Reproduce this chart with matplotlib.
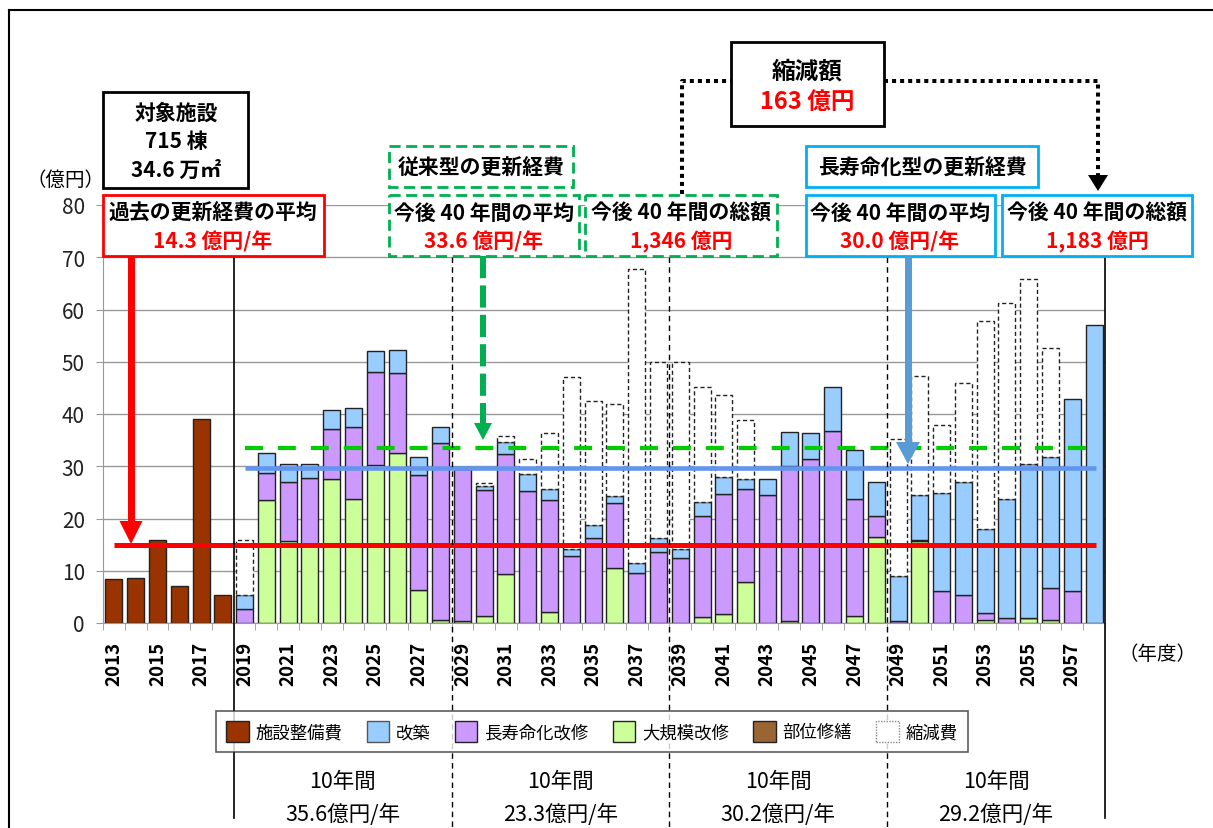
import matplotlib
matplotlib.use("Agg")
import matplotlib.pyplot as plt
import matplotlib.transforms as mtransforms
from matplotlib.patches import Rectangle, Polygon, Patch
from matplotlib.lines import Line2D
import numpy as np

plt.rcParams['font.family'] = ['Noto Sans CJK JP', 'DejaVu Sans']

W, H = 1213, 829

# ---------------------------------------------------------------- data
past_years = list(range(2013, 2019))
past_cost = [8.4, 8.7, 15.8, 7.0, 39.1, 5.3]          # 施設整備費

years = list(range(2019, 2059))
# 大規模改修
major_repair = [0, 23.5, 15.7, 15.2, 27.6, 23.7, 30.2, 32.5, 6.4, 0.5,
                0.3, 1.3, 9.3, 0, 2.1, 0, 0, 10.6, 0, 0,
                0, 1.1, 1.8, 7.9, 0, 0.3, 0, 0, 1.3, 16.5,
                0, 15.6, 0, 0, 0.6, 0, 1.0, 0.5, 0, 0]
# 長寿命化改修
life_ext = [2.6, 5.2, 11.3, 12.6, 9.6, 13.8, 17.9, 15.3, 21.9, 34.0,
            29.2, 24.1, 23.0, 25.3, 21.5, 12.8, 16.3, 12.3, 9.6, 13.6,
            12.5, 19.4, 22.8, 17.8, 24.5, 29.8, 31.4, 36.7, 22.5, 4.0,
            0.3, 0.2, 6.1, 5.3, 1.4, 1.0, 0, 6.2, 6.1, 0]
# 改築
rebuild = [2.7, 3.9, 3.5, 2.7, 3.5, 3.6, 3.9, 4.5, 3.4, 3.0,
           0, 0.9, 2.4, 3.2, 2.1, 1.4, 2.5, 1.4, 1.8, 2.6,
           1.7, 2.6, 3.4, 1.8, 3.0, 6.5, 4.9, 8.4, 9.4, 6.5,
           8.6, 8.7, 18.8, 21.7, 15.9, 22.8, 29.5, 25.1, 36.7, 57.0]
# 縮減費
reduction = [10.5, 0, 0, 0, 0, 0, 0, 0, 0, 0,
             0, 0.4, 1.1, 2.8, 10.7, 32.8, 23.7, 17.6, 56.3, 33.8,
             35.8, 22.1, 15.6, 11.3, 0, 0, 0, 0, 0, 0,
             26.4, 22.8, 13.0, 18.9, 39.9, 37.4, 35.3, 20.9, 0, 0]

past_avg_line = 15.0
conv_avg_line = 33.5
long_avg_line = 29.7

period_edges = [2018.5, 2028.5, 2038.5, 2048.5, 2058.5]
period_avg = ["35.6億円/年", "23.3億円/年", "30.2億円/年", "29.2億円/年"]

C_PAST = '#993300'
C_REBUILD = '#99ccff'
C_LIFE = '#cc99ff'
C_MAJOR = '#ccff99'
C_PART = '#996633'

# ---------------------------------------------------------------- figure
fig = plt.figure(figsize=(W / 100, H / 100), dpi=100)
ax = fig.add_axes([103 / W, 1 - 624 / H, (1105 - 103) / W, (624 - 206) / H])
# pixel coordinates measured from the top-left corner of the picture
px = mtransforms.Affine2D().scale(1 / W, -1 / H).translate(0, 1) + fig.transFigure

bw = 0.78
ax.bar(past_years, past_cost, bw, color=C_PAST, edgecolor='#222222', lw=1, zorder=2)

g = np.array(major_repair)
p = np.array(life_ext)
b = np.array(rebuild)
r = np.array(reduction)
yrs = np.array(years)
ax.bar(yrs, g, bw, color=C_MAJOR, edgecolor='#222222', lw=1, zorder=2)
ax.bar(yrs, p, bw, bottom=g, color=C_LIFE, edgecolor='#222222', lw=1, zorder=2)
ax.bar(yrs, b, bw, bottom=g + p, color=C_REBUILD, edgecolor='#222222', lw=1, zorder=2)
m = r > 0
ax.bar(yrs[m], r[m], bw, bottom=(g + p + b)[m], color='white', edgecolor='#222222',
       lw=1, linestyle=(0, (3, 2)), zorder=2)

# average lines
ax.plot([2013, 2058.1], [past_avg_line] * 2, color='#ff0000', lw=3.6,
        solid_capstyle='butt', zorder=4)
ax.plot([2019, 2058.1], [long_avg_line] * 2, color='#6495ED', lw=3.3,
        solid_capstyle='butt', zorder=4)
ax.plot([2019, 2058.1], [conv_avg_line] * 2, color='#00cc00', lw=3,
        linestyle=(0, (4.3, 3.6)), zorder=4)

# period dividers
for i, xe in enumerate(period_edges):
    if i == 0 or i == len(period_edges) - 1:
        ax.plot([xe, xe], [70, -37.3], color='black', lw=1.2, clip_on=False, zorder=5)
    else:
        ax.plot([xe, xe], [70, -40], color='black', lw=1, linestyle=(0, (4, 3)),
                clip_on=False, zorder=5)

for i in range(4):
    xc = (period_edges[i] + period_edges[i + 1]) / 2
    ax.text(xc, -30.2, "10年間", ha='center', va='center', fontsize=15.5, clip_on=False)
    ax.text(xc, -36.6, period_avg[i], ha='center', va='center', fontsize=15.5, clip_on=False)

# axes styling
ax.set_xlim(2012.5, 2058.5)
ax.set_ylim(0, 80)
for s in ['top', 'right']:
    ax.spines[s].set_visible(False)
for s in ['left', 'bottom']:
    ax.spines[s].set_color('#999999')
ax.set_yticks(range(0, 81, 10))
ax.tick_params(axis='y', length=5, color='#999999', labelsize=15, labelcolor='#222222', pad=8)
ax.set_xticks(range(2013, 2058, 2))
ax.set_xticklabels([str(v) for v in range(2013, 2058, 2)], rotation=90,
                   fontsize=13.5, fontweight='bold')
ax.set_xticks(np.arange(2012.5, 2058.6, 1), minor=True)
ax.tick_params(axis='x', which='major', length=0, pad=13)
ax.tick_params(axis='x', which='minor', length=5, color='#999999')
ax.yaxis.grid(True, color='#999999', lw=1)
ax.set_axisbelow(True)


# ---------------------------------------------------------------- annotations
def ptext(x, y, s, **kw):
    fig.text(x / W, 1 - y / H, s, ha='center', va='center', zorder=7, **kw)


def pbox(x0, y0, x1, y1, ec, ls='-', lw=1.6):
    fig.add_artist(Rectangle((x0, y0), x1 - x0, y1 - y0, transform=px, fc='white',
                             ec=ec, ls=ls, lw=lw, zorder=6))


def parrow(x, y0, y1, color, shaft, hw, hl, ls='-'):
    fig.add_artist(Line2D([x, x], [y0, y1 - hl + 1], transform=px, color=color,
                          lw=shaft * 0.72, linestyle=ls, solid_capstyle='butt',
                          dash_capstyle='butt', zorder=6))
    fig.add_artist(Polygon([(x - hw / 2, y1 - hl), (x + hw / 2, y1 - hl), (x, y1)],
                           closed=True, transform=px, color=color, lw=0, zorder=6))


GREEN = '#00b050'
CYAN = '#00b0f0'
dash_box = (0, (4, 2))

pbox(103, 93, 248, 189, 'black', lw=2)
ptext(176, 113, "対象施設", fontsize=15, fontweight='bold')
ptext(176, 142, "715 棟", fontsize=15, fontweight='bold')
ptext(176, 170, "34.6 万㎡", fontsize=15, fontweight='bold')

pbox(103, 196, 324, 257, '#ff0000', lw=2)
ptext(213, 213, "過去の更新経費の平均", fontsize=15, fontweight='bold')
ptext(213, 242, "14.3 億円/年", fontsize=15, fontweight='bold', color='#ff0000')

pbox(389, 147, 573, 188, GREEN, ls=dash_box, lw=2)
ptext(481, 168, "従来型の更新経費", fontsize=15, fontweight='bold')

pbox(389, 196, 579, 257, GREEN, ls=dash_box, lw=2)
ptext(484, 213, "今後 40 年間の平均", fontsize=15, fontweight='bold')
ptext(484, 242, "33.6 億円/年", fontsize=15, fontweight='bold', color='#ff0000')

pbox(585, 196, 777, 257, GREEN, ls=dash_box, lw=2)
ptext(681, 213, "今後 40 年間の総額", fontsize=15, fontweight='bold')
ptext(681, 242, "1,346 億円", fontsize=15, fontweight='bold', color='#ff0000')

pbox(731, 43, 884, 127, 'black', lw=2)
ptext(807, 72, "縮減額", fontsize=17, fontweight='bold')
ptext(807, 102, "163 億円", fontsize=17, fontweight='bold', color='#ff0000')

pbox(806, 147, 1038, 188, CYAN, lw=2)
ptext(922, 168, "長寿命化型の更新経費", fontsize=15, fontweight='bold')

pbox(806, 196, 995, 257, CYAN, lw=2)
ptext(900, 213, "今後 40 年間の平均", fontsize=15, fontweight='bold')
ptext(900, 242, "30.0 億円/年", fontsize=15, fontweight='bold', color='#ff0000')

pbox(1002, 196, 1192, 257, CYAN, lw=2)
ptext(1097, 213, "今後 40 年間の総額", fontsize=15, fontweight='bold')
ptext(1097, 242, "1,183 億円", fontsize=15, fontweight='bold', color='#ff0000')

# arrows
parrow(131, 257, 545, '#ff0000', 7, 23, 23)
parrow(908, 257, 465, '#5b9bd5', 7, 24, 22)
parrow(483, 257, 441, GREEN, 6, 18, 17, ls=(0, (3.7, 1.2)))

# dotted connector
fig.add_artist(Line2D([682, 682, 731], [195, 82, 82], transform=px, color='black',
                      lw=2.9, linestyle=(0, (1, 1)), dash_capstyle='butt', zorder=6))
fig.add_artist(Line2D([884, 1098, 1098], [82, 82, 178], transform=px, color='black',
                      lw=2.9, linestyle=(0, (1, 1)), dash_capstyle='butt', zorder=6))
fig.add_artist(Polygon([(1088, 176), (1108, 176), (1098, 192)], closed=True,
                       transform=px, color='black', lw=0, zorder=6))

# axis unit labels
ptext(65, 180, "（億円）", fontsize=14)
ptext(1158, 655, "（年度）", fontsize=14)

# outer frame
fig.add_artist(Line2D([9, 1213], [11, 11], transform=px, color='black', lw=1.5))
fig.add_artist(Line2D([9, 9], [11, 829], transform=px, color='black', lw=1.5))

# legend
handles = [Patch(fc=C_PAST, ec='#222222'),
           Patch(fc=C_REBUILD, ec='#555555'),
           Patch(fc=C_LIFE, ec='#222222'),
           Patch(fc=C_MAJOR, ec='#222222'),
           Patch(fc=C_PART, ec='#222222'),
           Patch(fc='white', ec='#888888', ls=(0, (1, 1)))]
labels = ["施設整備費", "改築", "長寿命化改修", "大規模改修", "部位修繕", "縮減費"]
leg = fig.legend(handles, labels, ncol=6, loc='center', mode='expand',
                 bbox_to_anchor=(207 / W, 1 - 759 / H, (977 - 207) / W, (759 - 706) / H),
                 fontsize=12.5, frameon=True, fancybox=False, edgecolor='#333333',
                 handlelength=1.3, handleheight=1.4, handletextpad=0.4,
                 borderpad=0.6, columnspacing=1.0)
leg.get_frame().set_linewidth(1.2)

fig.savefig("out.png", dpi=100)
